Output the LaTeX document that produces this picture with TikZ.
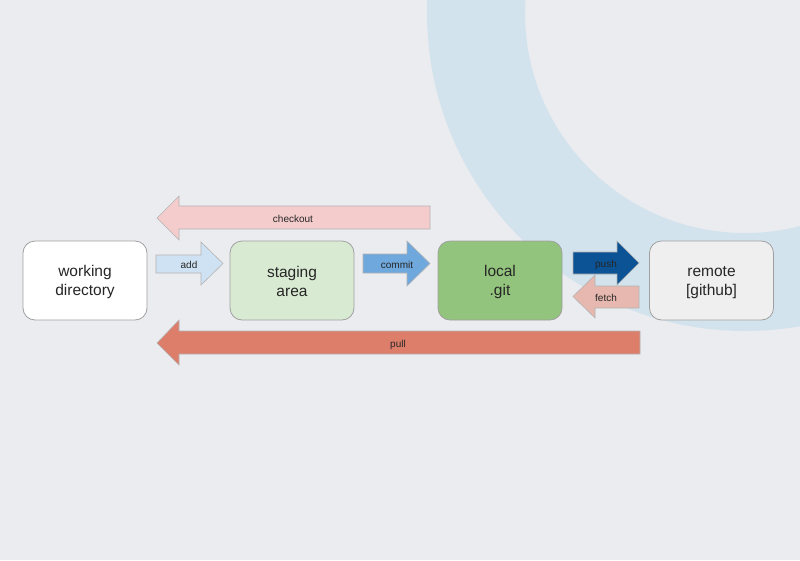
\documentclass[tikz,border=0pt]{standalone}
\usepackage{fontspec}
\setmainfont{Liberation Sans}
\definecolor{bgc}{HTML}{EBECF0}
\definecolor{ringc}{HTML}{D3E3ED}
\definecolor{stagec}{HTML}{D9EAD3}
\definecolor{localc}{HTML}{93C47D}
\definecolor{remotec}{HTML}{EFEFEF}
\definecolor{addc}{HTML}{CFE2F3}
\definecolor{commitc}{HTML}{6FA8DC}
\definecolor{pushc}{HTML}{0B5394}
\definecolor{fetchc}{HTML}{E6B8AF}
\definecolor{checkoutc}{HTML}{F4CCCC}
\definecolor{pullc}{HTML}{DD7E6B}
\definecolor{edgec}{HTML}{A0A0A0}
\begin{document}
\begin{tikzpicture}[x=1pt,y=-1pt,
  box/.style={draw=edgec, line width=0.8pt, rounded corners=12pt, minimum width=124pt, minimum height=79pt, align=center, font=\fontsize{15.5}{19}\selectfont, text=black!85},
  blockarrow/.style={draw=edgec!80, line width=0.6pt},
  lbl/.style={font=\fontsize{10}{12}\selectfont, text=black!85, inner sep=0pt, text height=6pt, text depth=1pt, yshift=-2pt}]
\useasboundingbox (0,0) rectangle (800,560);
\fill[bgc] (0,0) rectangle (800,560);
\begin{scope}
  \clip (0,0) rectangle (800,560);
  \fill[ringc, even odd rule] (745,13) circle[radius=318pt] (745,13) circle[radius=220pt];
\end{scope}
% boxes
\node[box, fill=white] (wd) at (85,280.5) {\strut working\\directory};
\node[box, fill=stagec] (stage) at (292,280.5) {\strut staging\\area};
\node[box, fill=localc] (local) at (500,280.5) {\strut local\\.git};
\node[box, fill=remotec] (remote) at (711.5,280.5) {\strut remote\\{[github]}};
% block arrows
\draw[blockarrow, fill=checkoutc] (430,206)--(179,206)--(179,196)--(157,218)--(179,240)--(179,229)--(430,229)--cycle;
\draw[blockarrow, fill=addc] (156,255)--(201,255)--(201,242)--(223,263.5)--(201,285)--(201,273)--(156,273)--cycle;
\draw[blockarrow, fill=commitc] (363,254)--(407,254)--(407,241)--(430,263.5)--(407,286)--(407,273)--(363,273)--cycle;
\draw[blockarrow, fill=pushc] (573,252)--(617,252)--(617,241)--(639,263)--(617,285)--(617,274)--(573,274)--cycle;
\draw[blockarrow, fill=fetchc] (639,286)--(595,286)--(595,275)--(573,296.5)--(595,318)--(595,308)--(639,308)--cycle;
\draw[blockarrow, fill=pullc] (640,331)--(179,331)--(179,320)--(157,343)--(179,365)--(179,354)--(640,354)--cycle;
% labels
\node[lbl] (lcheckout) at (293,218) {checkout};
\node[lbl] (ladd) at (189,264) {add};
\node[lbl] (lcommit) at (397,264) {commit};
\node[lbl] (lpush) at (606,263) {push};
\node[lbl] (lfetch) at (606,297) {fetch};
\node[lbl] (lpull) at (398,343) {pull};
\end{tikzpicture}
\end{document}
